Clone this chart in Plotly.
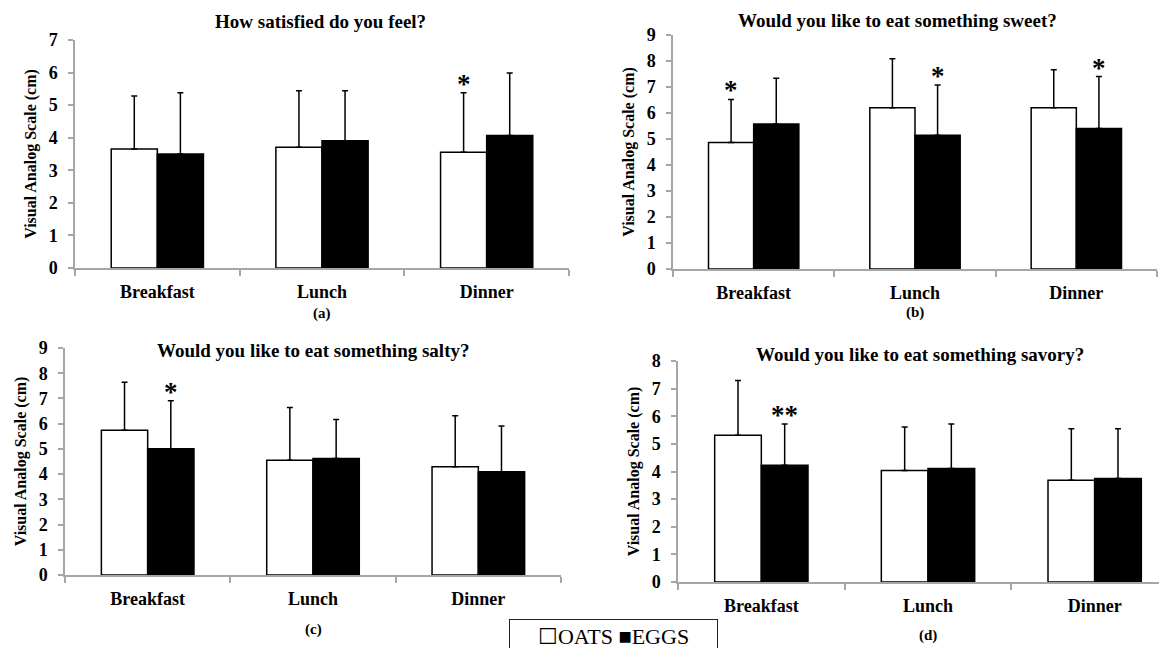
import plotly.graph_objects as go

# ---------------- data ----------------
meals = ["Breakfast", "Lunch", "Dinner"]
series_names = ["OATS", "EGGS"]

panel_titles = [
    "How satisfied do you feel?",
    "Would you like to eat something sweet?",
    "Would you like to eat something salty?",
    "Would you like to eat something savory?",
]
panel_tags = ["(a)", "(b)", "(c)", "(d)"]
y_max = [7, 9, 9, 8]

satisfied_oats = [3.65, 3.71, 3.55]
satisfied_oats_sd = [1.63, 1.73, 1.83]
satisfied_eggs = [3.50, 3.91, 4.07]
satisfied_eggs_sd = [1.88, 1.53, 1.92]

sweet_oats = [4.87, 6.20, 6.20]
sweet_oats_sd = [1.65, 1.89, 1.46]
sweet_eggs = [5.58, 5.14, 5.40]
sweet_eggs_sd = [1.76, 1.94, 2.00]

salty_oats = [5.74, 4.55, 4.29]
salty_oats_sd = [1.90, 2.09, 2.02]
salty_eggs = [5.01, 4.62, 4.09]
salty_eggs_sd = [1.90, 1.55, 1.82]

savory_oats = [5.31, 4.04, 3.68]
savory_oats_sd = [1.98, 1.57, 1.87]
savory_eggs = [4.23, 4.11, 3.75]
savory_eggs_sd = [1.49, 1.61, 1.80]

# significance marks
sig_panel = [0, 1, 1, 1, 2, 3]
sig_meal = ["Dinner", "Breakfast", "Lunch", "Dinner", "Breakfast", "Breakfast"]
sig_series = ["OATS", "OATS", "EGGS", "EGGS", "EGGS", "EGGS"]
sig_mark = ["*", "*", "*", "*", "*", "**"]

legend_text = "\u2610OATS \u25a0EGGS"

# ---------------- layout geometry (image pixels) ----------------
IMG_W, IMG_H = 1167, 648
OFF = 8                      # the page body's default margin
W, H = IMG_W - OFF, IMG_H - OFF


def px_x(v):
    return (v - OFF) / W


def px_y(v):
    return 1 - (v - OFF) / H


# (x_left, x_right, y_top, y_bottom) of each plot area in image pixels
panel_box = [
    (75, 569, 40, 268),
    (673, 1157, 35, 269),
    (65, 561, 348, 575),
    (678, 1167, 361, 582),
]
# the last panel's axis runs past the image edge
x_ranges = [[-0.5, 2.5], [-0.5, 2.5], [-0.5, 2.5], [-0.5, 2.434]]
title_pos = [(320, 22), (897, 21), (313, 350), (920, 354)]
tag_y = [313, 312, 629, 635]

FONT = "Liberation Serif"
AXIS_GRAY = "#a6a6a6"
BARGAP = 0.44

oats_vals = [satisfied_oats, sweet_oats, salty_oats, savory_oats]
oats_sds = [satisfied_oats_sd, sweet_oats_sd, salty_oats_sd, savory_oats_sd]
eggs_vals = [satisfied_eggs, sweet_eggs, salty_eggs, savory_eggs]
eggs_sds = [satisfied_eggs_sd, sweet_eggs_sd, salty_eggs_sd, savory_eggs_sd]

fig = go.Figure()
annotations = []
layout_axes = {}

for i in range(4):
    xa = "x" if i == 0 else f"x{i+1}"
    ya = "y" if i == 0 else f"y{i+1}"
    fig.add_trace(go.Bar(
        x=meals, y=oats_vals[i], name="OATS", legendgroup="OATS",
        showlegend=False, xaxis=xa, yaxis=ya,
        marker=dict(color="white", line=dict(color="black", width=1.5)),
        error_y=dict(type="data", array=oats_sds[i], arrayminus=[0, 0, 0],
                     symmetric=False, color="black", thickness=1.5, width=3),
    ))
    fig.add_trace(go.Bar(
        x=meals, y=eggs_vals[i], name="EGGS", legendgroup="EGGS",
        showlegend=False, xaxis=xa, yaxis=ya,
        marker=dict(color="black", line=dict(color="black", width=1.5)),
        error_y=dict(type="data", array=eggs_sds[i], arrayminus=[0, 0, 0],
                     symmetric=False, color="black", thickness=1.5, width=3),
    ))

    xl, xr, yt, yb = panel_box[i]
    key_x = "xaxis" if i == 0 else f"xaxis{i+1}"
    key_y = "yaxis" if i == 0 else f"yaxis{i+1}"
    layout_axes[key_x] = dict(
        domain=[px_x(xl), min(px_x(xr), 1.0)], anchor=ya, type="category",
        range=x_ranges[i], showline=True, linecolor=AXIS_GRAY, linewidth=1.5,
        ticks="outside", tickson="boundaries", ticklen=6, tickcolor=AXIS_GRAY,
        tickwidth=1.5, showgrid=False, zeroline=False, ticklabelstandoff=7,
        tickfont=dict(family=FONT, size=18, color="black", weight="bold"),
    )
    layout_axes[key_y] = dict(
        domain=[px_y(yb), px_y(yt)], anchor=xa, range=[0, y_max[i]],
        dtick=1, showline=True, linecolor=AXIS_GRAY, linewidth=1.5,
        ticks="outside", ticklen=5, tickcolor=AXIS_GRAY, tickwidth=1.5,
        showgrid=False, zeroline=False, ticklabelstandoff=7,
        tickfont=dict(family=FONT, size=18, color="black", weight="bold"),
        title=dict(text="Visual Analog Scale (cm)", standoff=8,
                   font=dict(family=FONT, size=16, color="black", weight="bold")),
    )

    tx, ty = title_pos[i]
    annotations.append(dict(
        text=panel_titles[i], xref="paper", yref="paper", x=px_x(tx), y=px_y(ty),
        xanchor="center", yanchor="middle", showarrow=False,
        font=dict(family=FONT, size=19, color="black", weight="bold"),
    ))
    annotations.append(dict(
        text=panel_tags[i], xref=xa, yref="paper", x="Lunch", y=px_y(tag_y[i]),
        xanchor="center", yanchor="middle", showarrow=False,
        font=dict(family=FONT, size=15, color="black", weight="bold"),
    ))

# significance stars, placed just above the relevant error bar
half = (1 - BARGAP) / 4
for p, meal, ser, mark in zip(sig_panel, sig_meal, sig_series, sig_mark):
    k = meals.index(meal)
    if ser == "OATS":
        xpos = k - half
        top = oats_vals[p][k] + oats_sds[p][k]
    else:
        xpos = k + half
        top = eggs_vals[p][k] + eggs_sds[p][k]
    xa = "x" if p == 0 else f"x{p+1}"
    ya = "y" if p == 0 else f"y{p+1}"
    annotations.append(dict(
        text=mark, xref=xa, yref=ya, x=xpos, y=top, yshift=9,
        xanchor="center", yanchor="middle", showarrow=False,
        font=dict(family=FONT, size=27, color="black", weight="bold"),
    ))

# legend box (bottom centre)
annotations.append(dict(
    text=legend_text, xref="paper", yref="paper", x=px_x(613.5), y=px_y(636),
    xanchor="center", yanchor="middle", showarrow=False, width=199, align="center",
    bordercolor="#222", borderwidth=1, borderpad=4, bgcolor="white",
    font=dict(family=FONT, size=22, color="black"),
))

fig.update_layout(
    width=W, height=H,
    margin=dict(l=0, r=0, t=0, b=0, autoexpand=False),
    plot_bgcolor="white", paper_bgcolor="white",
    barmode="group", bargap=BARGAP, bargroupgap=0,
    annotations=annotations,
    showlegend=False,
    **layout_axes,
)

fig.write_html("out.html")
